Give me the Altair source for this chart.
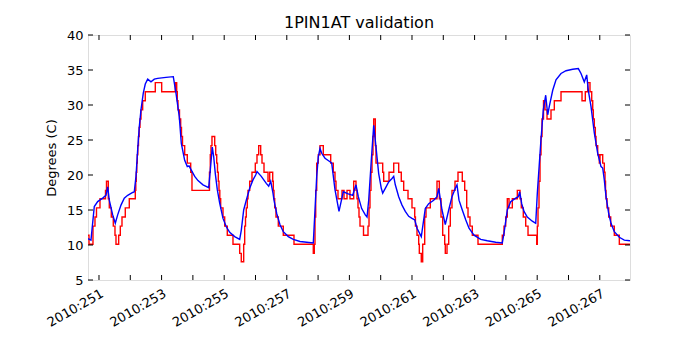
import altair as alt
import pandas as pd

# Red (quantized, step) series: day-of-year, degrees C
red_day = [250.649, 250.681, 250.808, 250.872, 250.920, 251.032, 251.208, 251.240, 251.297, 251.329,
           251.393, 251.457, 251.511, 251.543, 251.629, 251.681, 251.735, 251.840, 251.968, 252.160,
           252.176, 252.192, 252.208, 252.224, 252.240, 252.262, 252.284, 252.310, 252.342, 252.396,
           252.479, 252.799, 253.003, 253.438, 253.483, 253.502, 253.524, 253.572, 253.610, 253.636,
           253.668, 253.738, 253.821, 253.930, 253.971, 254.530, 254.556, 254.578, 254.610, 254.697,
           254.729, 254.761, 254.786, 254.812, 254.834, 254.860, 254.888, 254.962, 255.016, 255.099,
           255.281, 255.495, 255.546, 255.623, 255.655, 255.681, 255.706, 255.738, 255.761, 255.815,
           255.888, 255.994, 256.048, 256.102, 256.166, 256.208, 256.272, 256.400, 256.454, 256.550,
           256.569, 256.591, 256.614, 256.655, 256.729, 256.888, 257.230, 257.847, 257.879, 257.901,
           257.924, 257.956, 258.007, 258.061, 258.166, 258.403, 258.486, 258.540, 258.572, 258.636,
           258.764, 258.828, 258.924, 259.019, 259.138, 259.211, 259.243, 259.275, 259.307, 259.339,
           259.451, 259.595, 259.627, 259.658, 259.690, 259.722, 259.754, 259.777, 259.828, 259.850,
           260.064, 260.096, 260.266, 260.416, 260.575, 260.658, 260.735, 260.873, 261.000, 261.087,
           261.110, 261.160, 261.214, 261.234, 261.297, 261.342, 261.406, 261.448, 261.585, 261.799,
           261.873, 261.927, 261.981, 262.045, 262.064, 262.119, 262.173, 262.224, 262.278, 262.374,
           262.470, 262.607, 262.684, 262.748, 262.790, 262.853, 262.927, 263.109, 263.885, 263.940,
           263.994, 264.045, 264.100, 264.205, 264.365, 264.451, 264.492, 264.556, 264.633, 264.707,
           264.985, 265.004, 265.026, 265.058, 265.090, 265.122, 265.154, 265.202, 265.250, 265.314,
           265.441, 265.547, 265.761, 266.432, 266.537, 266.614, 266.687, 266.742, 266.774, 266.793,
           266.825, 266.857, 266.879, 266.933, 266.985, 267.007, 267.093, 267.144, 267.167, 267.183,
           267.199, 267.231, 267.285, 267.349, 267.464, 267.624, 267.965]
red_deg = [11.4, 10.1, 12.7, 14.0, 15.3, 16.6, 17.8, 19.1, 16.6, 15.3,
           14.0, 12.7, 11.4, 10.1, 11.4, 12.7, 14.0, 15.3, 16.6, 17.8,
           19.1, 20.4, 21.7, 22.9, 24.2, 25.5, 26.8, 28.0, 29.3, 30.6,
           31.9, 33.2, 31.9, 33.2, 31.9, 30.6, 29.3, 28.0, 26.8, 25.5,
           24.2, 22.9, 21.7, 20.4, 17.8, 20.4, 22.9, 24.2, 25.5, 24.2,
           22.9, 21.7, 20.4, 19.1, 17.8, 16.6, 15.3, 14.0, 12.7, 11.4,
           10.1, 8.8, 7.6, 10.1, 12.7, 14.0, 15.3, 16.6, 17.8, 19.1,
           20.4, 21.7, 22.9, 24.2, 22.9, 21.7, 20.4, 19.1, 20.4, 19.1,
           17.8, 16.6, 15.3, 14.0, 12.7, 11.4, 10.1, 8.8, 10.1, 14.0,
           17.8, 21.7, 22.9, 24.2, 22.9, 21.7, 20.4, 19.1, 17.8, 16.6,
           17.8, 16.6, 17.8, 16.6, 19.1, 17.8, 16.6, 15.3, 14.0, 12.7,
           11.4, 12.7, 15.3, 17.8, 20.4, 22.9, 25.5, 28.0, 24.2, 21.7,
           20.4, 19.1, 20.4, 21.7, 20.4, 19.1, 17.8, 16.6, 15.3, 14.0,
           12.7, 11.4, 10.1, 8.8, 7.6, 10.1, 14.0, 15.3, 16.6, 19.1,
           16.6, 14.0, 11.4, 10.1, 8.8, 10.1, 12.7, 15.3, 17.8, 19.1,
           20.4, 19.1, 17.8, 15.3, 14.0, 12.7, 11.4, 10.1, 11.4, 12.7,
           14.0, 16.6, 15.3, 16.6, 17.8, 16.6, 15.3, 14.0, 12.7, 11.4,
           10.1, 12.7, 15.3, 19.1, 22.9, 25.5, 28.0, 30.6, 29.3, 28.0,
           29.3, 30.6, 31.9, 30.6, 31.9, 33.2, 31.9, 30.6, 29.3, 28.0,
           26.8, 25.5, 24.2, 22.9, 21.7, 22.9, 21.7, 20.4, 19.1, 17.8,
           16.6, 15.3, 14.0, 12.7, 11.4, 10.1, 10.1]

# Blue (model, smooth) series
blue_day = [250.649, 250.744, 250.850, 250.958, 251.118, 251.224, 251.278, 251.329, 251.438, 251.521,
            251.597, 251.703, 251.808, 251.917, 252.077, 252.128, 252.182, 252.236, 252.288, 252.342,
            252.415, 252.479, 252.556, 252.661, 252.767, 252.875, 253.141, 253.374, 253.460, 253.566,
            253.630, 253.738, 253.821, 253.876, 253.949, 254.058, 254.163, 254.323, 254.505, 254.556,
            254.620, 254.665, 254.716, 254.780, 254.856, 254.962, 255.067, 255.176, 255.336, 255.495,
            255.546, 255.623, 255.706, 255.815, 255.920, 256.006, 256.048, 256.185, 256.345, 256.422,
            256.486, 256.559, 256.591, 256.678, 256.783, 256.888, 257.048, 257.208, 257.422, 257.636,
            257.847, 257.901, 257.956, 258.007, 258.061, 258.115, 258.221, 258.380, 258.435, 258.540,
            258.668, 258.722, 258.805, 258.965, 259.106, 259.211, 259.285, 259.393, 259.508, 259.563,
            259.617, 259.700, 259.777, 259.850, 259.936, 260.019, 260.064, 260.147, 260.256, 260.361,
            260.416, 260.467, 260.575, 260.681, 260.786, 260.895, 261.000, 261.087, 261.160, 261.297,
            261.425, 261.534, 261.694, 261.799, 261.853, 261.959, 262.064, 262.173, 262.278, 262.384,
            262.438, 262.502, 262.607, 262.716, 262.822, 262.981, 263.195, 263.406, 263.675, 263.885,
            263.940, 264.045, 264.154, 264.314, 264.397, 264.441, 264.505, 264.579, 264.684, 264.844,
            264.953, 265.004, 265.112, 265.195, 265.272, 265.336, 265.387, 265.496, 265.601, 265.761,
            265.921, 266.135, 266.314, 266.400, 266.505, 266.582, 266.633, 266.719, 266.825, 266.933,
            267.039, 267.093, 267.144, 267.199, 267.285, 267.358, 267.464, 267.624, 267.783, 267.965]
blue_deg = [10.9, 10.7, 15.5, 16.2, 16.7, 17.1, 18.3, 16.4, 14.3, 13.1,
            14.3, 15.7, 16.7, 17.1, 17.5, 17.6, 19.8, 23.6, 26.9, 29.3,
            31.7, 33.0, 33.7, 33.3, 33.7, 33.8, 33.95, 34.05, 31.7, 28.3,
            24.5, 22.1, 21.2, 21.3, 20.7, 19.8, 19.2, 18.6, 18.2, 20.7,
            24.0, 22.6, 20.2, 17.9, 16.0, 13.8, 12.6, 11.8, 11.2, 10.8,
            12.1, 15.0, 16.4, 18.1, 19.3, 20.0, 20.5, 19.8, 18.8, 18.4,
            19.1, 17.4, 16.4, 14.5, 12.9, 11.9, 11.2, 10.8, 10.5, 10.4,
            10.3, 15.0, 19.8, 22.6, 23.8, 23.1, 22.4, 21.9, 21.7, 17.9,
            14.8, 15.9, 17.6, 17.3, 17.1, 18.6, 16.9, 15.2, 14.3, 14.0,
            16.4, 22.1, 27.1, 24.0, 20.2, 18.1, 17.4, 18.1, 19.0, 19.5,
            19.8, 18.6, 16.9, 15.7, 14.8, 14.1, 13.8, 13.6, 12.4, 11.2,
            15.2, 15.9, 16.4, 16.9, 18.1, 15.0, 12.9, 15.0, 16.9, 18.1,
            18.6, 16.4, 15.0, 13.6, 12.4, 11.4, 10.8, 10.6, 10.4, 10.3,
            11.7, 15.0, 16.2, 16.7, 16.9, 17.6, 15.9, 14.8, 14.0, 13.4,
            13.1, 17.4, 24.5, 29.3, 31.4, 28.6, 29.8, 32.1, 33.6, 34.5,
            34.9, 35.1, 35.2, 34.5, 33.3, 34.3, 32.1, 29.8, 26.0, 23.1,
            21.2, 21.0, 19.3, 16.9, 14.5, 13.1, 11.9, 11.1, 10.7, 10.6]

x_ticks = list(range(251, 268))
x_labels = list(range(251, 268, 2))
y_ticks = [5, 10, 15, 20, 25, 30, 35, 40]
x_domain = [250.649, 267.965]
y_domain = [5, 40]
title_text = "1PIN1AT validation"
y_title = "Degrees (C)"

W, H = 542, 245
FONT = "DejaVu Sans"

red_df = pd.DataFrame({"day": red_day, "deg": red_deg})
blue_df = pd.DataFrame({"day": blue_day, "deg": blue_deg})
xt_df = pd.DataFrame({"day": x_ticks})
yt_df = pd.DataFrame({"deg": y_ticks})

x_axis = alt.Axis(values=x_labels, labelExpr="'2010:' + datum.value", ticks=False,
                  domain=False, grid=False, labelAngle=330, labelAlign="right",
                  labelBaseline="top", labelPadding=7, labelFontSize=13, labelFont=FONT,
                  labelColor="black", title=None, labelOverlap=False, labelFlush=False)
y_axis = alt.Axis(values=y_ticks, ticks=False, domain=False, grid=False, labelPadding=5,
                  labelFontSize=13, labelFont=FONT, labelColor="black", title=y_title,
                  titleFont=FONT, titleFontSize=13, titleFontWeight="normal",
                  titleColor="black", titlePadding=8, labelFlush=False)

xs = alt.Scale(domain=x_domain, nice=False, zero=False)
ys = alt.Scale(domain=y_domain, nice=False, zero=False)

X = alt.X("day:Q", scale=xs, axis=x_axis)
Y = alt.Y("deg:Q", scale=ys, axis=y_axis)

red = alt.Chart(red_df).mark_line(color="#ff0000", strokeWidth=1.4, interpolate="step-after",
                                  clip=True).encode(x=X, y=Y)
blue = alt.Chart(blue_df).mark_line(color="#0000ff", strokeWidth=1.4, clip=True).encode(x=X, y=Y)

tick_style = dict(color="black", strokeWidth=1)
bt = alt.Chart(xt_df).mark_rule(**tick_style).encode(x=X, y=alt.value(H), y2=alt.value(H - 5))
tt = alt.Chart(xt_df).mark_rule(**tick_style).encode(x=X, y=alt.value(0), y2=alt.value(5))
lt = alt.Chart(yt_df).mark_rule(**tick_style).encode(y=Y, x=alt.value(0), x2=alt.value(5))
rt = alt.Chart(yt_df).mark_rule(**tick_style).encode(y=Y, x=alt.value(W), x2=alt.value(W - 5))

chart = alt.layer(red, blue, bt, tt, lt, rt).properties(
    width=W, height=H,
    title=alt.TitleParams(title_text, font=FONT, fontSize=16, fontWeight="normal",
                          color="black", anchor="middle", offset=-2),
    autosize=alt.AutoSizeParams(type="none"),
    padding={"left": 80, "top": 27, "right": 62, "bottom": 62},
).configure_view(stroke="black", strokeWidth=1.2).configure(background="white")

chart.save("out.html", embed_options={"renderer": "svg", "actions": False})
